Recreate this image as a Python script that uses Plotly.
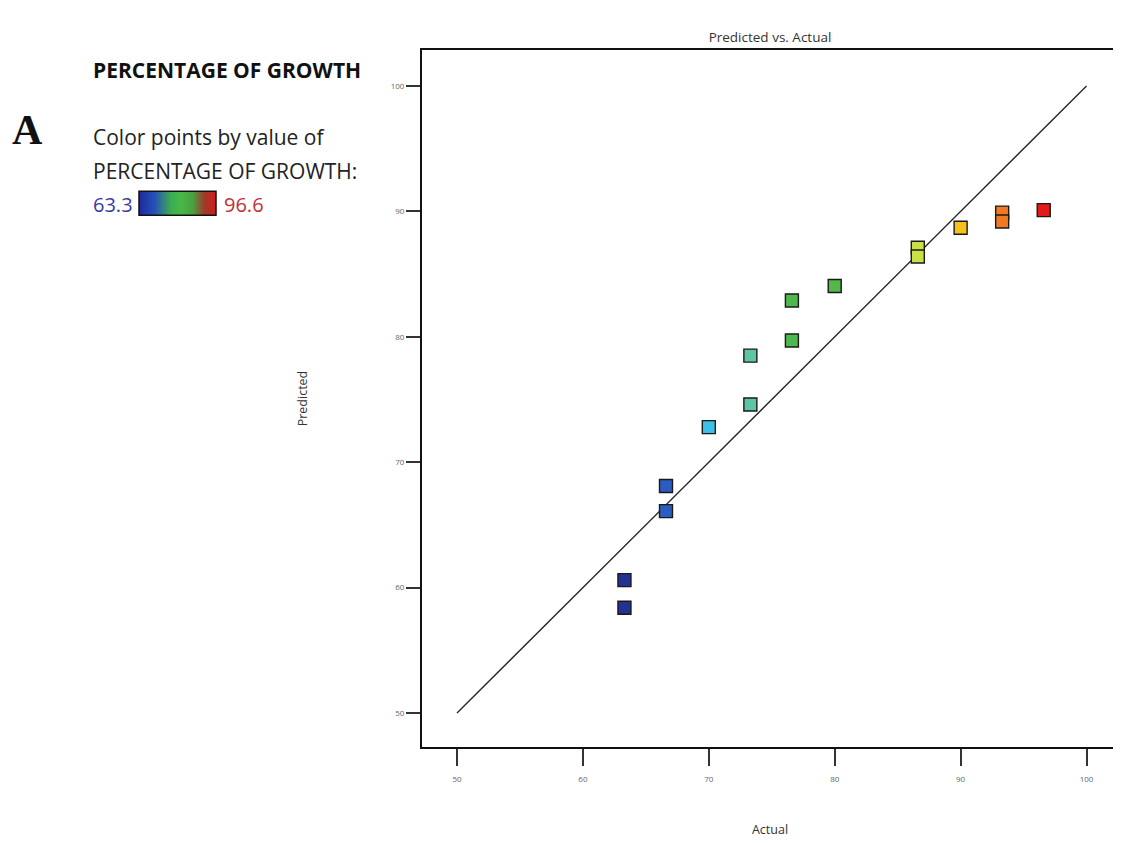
import plotly.graph_objects as go

actual = [63.3, 63.3, 66.6, 66.6, 70.0, 73.3, 73.3, 76.6, 76.6, 80.0, 86.6, 86.6, 90.0, 93.3, 93.3, 96.6]
predicted = [60.6, 58.4, 68.1, 66.1, 72.8, 78.5, 74.6, 82.9, 79.7, 84.05, 87.1, 86.4, 88.7, 89.9, 89.2, 90.1]
line_x = [50, 100]
line_y = [50, 100]
cmin, cmax = 63.3, 96.6
x_ticks = [50, 60, 70, 80, 90, 100]
y_ticks = [50, 60, 70, 80, 90, 100]

point_scale = [
    [0.0, "#233394"], [0.1, "#2c5cc0"], [0.2, "#3cc0e6"], [0.3, "#5cc6a6"],
    [0.4, "#4cb84c"], [0.5, "#52b848"], [0.7, "#c9e046"], [0.8, "#f6c21a"],
    [0.9, "#f07a22"], [1.0, "#e41a1a"],
]
legend_scale = [
    [0.0, "#1e2a9c"], [0.2, "#2650b8"], [0.42, "#3cae50"], [0.55, "#46b846"],
    [0.7, "#4aa040"], [0.85, "#a03a2a"], [1.0, "#d21c1c"],
]

OFF = 8  # page body margin
W, H = 1113, 835
L, T, R, B = 422 - OFF, 50 - OFF, 3, 96
PW = W - L - R
PH = H - T - B

fig = go.Figure()
fig.add_trace(go.Scatter(
    x=line_x, y=line_y, mode="lines",
    line=dict(color="#222222", width=1.3), hoverinfo="skip", showlegend=False,
))
fig.add_trace(go.Scatter(
    x=actual, y=predicted, mode="markers", showlegend=False,
    marker=dict(symbol="square", size=13, color=actual, colorscale=point_scale,
                cmin=cmin, cmax=cmax, line=dict(color="#1a1a1a", width=1.4)),
))

def px_x(px):
    return (px - OFF - L) / PW

def px_y(py):
    return (T + PH - (py - OFF)) / PH

# legend gradient swatch
fig.add_trace(go.Scatter(
    x=[actual[0]], y=[predicted[0]], mode="markers", showlegend=False, hoverinfo="skip",
    marker=dict(size=1, opacity=0, color=[cmin], colorscale=legend_scale, cmin=cmin, cmax=cmax,
                showscale=True,
                colorbar=dict(orientation="h", x=px_x(177.5), xanchor="center",
                              y=px_y(203.5), yanchor="middle",
                              len=77, lenmode="pixels", thickness=24, thicknessmode="pixels",
                              xpad=0, ypad=0, outlinewidth=1.5, outlinecolor="#111111",
                              showticklabels=False, ticks="")),
))

axis_common = dict(
    showgrid=False, zeroline=False, showline=True, linecolor="#111111", linewidth=2,
    mirror=True, ticks="outside", tickwidth=1.5, tickcolor="#333333",
    tickfont=dict(family="Open Sans", size=8, color="#666666"),
)
fig.update_xaxes(range=[47.22, 102.5], tickvals=x_ticks, ticklen=17, ticklabelstandoff=6, **axis_common,
                 title=dict(text="Actual", font=dict(family="Open Sans", size=12.5, color="#333333"), standoff=43))
fig.update_yaxes(range=[47.29, 102.87], tickvals=y_ticks, ticklen=14, **axis_common,
                 title=dict(text="Predicted", font=dict(family="Open Sans", size=12.5, color="#333333"), standoff=80))

fig.update_layout(
    width=W, height=H,
    margin=dict(l=L, r=R, t=T, b=B, autoexpand=False),
    plot_bgcolor="white", paper_bgcolor="white",
    title=dict(text="Predicted vs. Actual", x=(770 - OFF) / W, xanchor="center",
               y=1 - (37 - OFF) / H, yanchor="middle",
               font=dict(family="Open Sans", size=13.5, color="#333333")),
)

def ann(text, px, py, size, color="#111111", family="Open Sans", xanchor="left"):
    fig.add_annotation(text=text, xref="paper", yref="paper",
                       x=px_x(px), y=px_y(py), xanchor=xanchor, yanchor="middle",
                       showarrow=False, font=dict(family=family, size=size, color=color))

ann("<b>PERCENTAGE OF GROWTH</b>", 91, 70, 21)
ann("<b>A</b>", 10, 130, 42, family="Liberation Serif")
ann("Color points by value of", 91, 137, 21, color="#222222")
ann("PERCENTAGE OF GROWTH:", 91, 171, 21, color="#222222")
ann("63.3", 91, 204, 20, color="#3a3aa0")
ann("96.6", 222, 204, 20, color="#c0303a")

fig.write_html("out.html")
